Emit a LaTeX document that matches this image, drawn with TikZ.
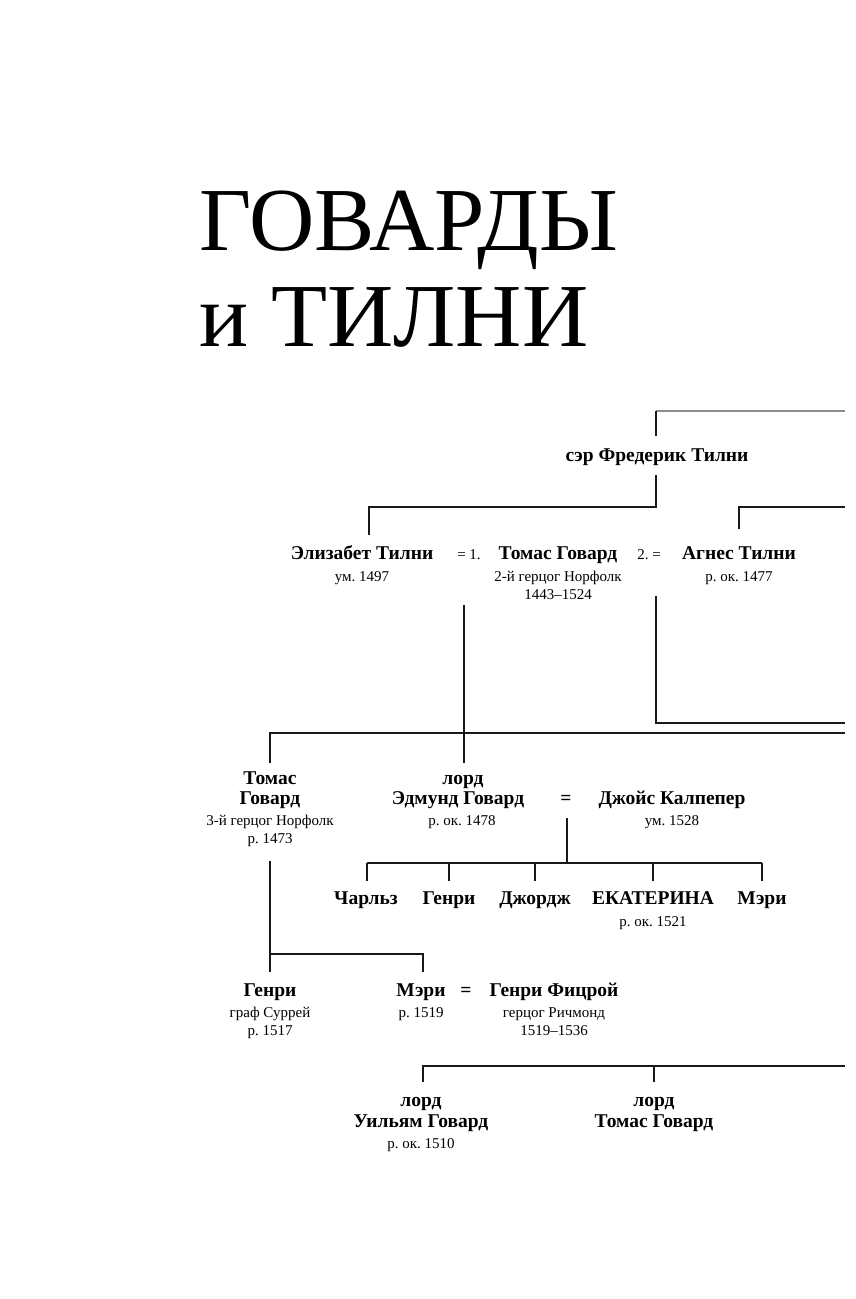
\documentclass[tikz,border=0pt]{standalone}
\usepackage{fontspec}
\setmainfont{Liberation Serif}
\frenchspacing
\begin{document}
\begin{tikzpicture}[x=1pt,y=-1pt,
  nm/.style={anchor=base,inner sep=0pt,font=\bfseries\fontsize{19.5}{20}\selectfont},
  sb/.style={anchor=base,inner sep=0pt,font=\fontsize{15}{16}\selectfont},
  ttl/.style={anchor=base west,inner sep=0pt,font=\fontsize{90}{90}\selectfont},
  ln/.style={line width=1.3pt,black!90},
  gln/.style={line width=2pt,black!45}]
\useasboundingbox (0,0) rectangle (856,1299);
% title
\node[ttl] (t1) at (199,250) {\scalebox{1.005}[1]{ГОВАРДЫ}};
\node[ttl] (t2) at (199,346) {\scalebox{1.02}[1]{и ТИЛНИ}};
% generation 1
\node[nm] (fred) at (657,461) {сэр Фредерик Тилни};
% generation 2
\node[nm] (eliz) at (362,559) {Элизабет Тилни};
\node[sb] (elizd) at (362,581) {ум. 1497};
\node[sb] (m1) at (469,559) {= 1.};
\node[nm] (thom2) at (558,559) {Томас Говард};
\node[sb] (thom2a) at (558,581) {2-й герцог Норфолк};
\node[sb] (thom2b) at (558,599) {1443--1524};
\node[sb] (m2) at (649,559) {2. =};
\node[nm] (agnes) at (739,559) {Агнес Тилни};
\node[sb] (agnesd) at (739,581) {р. ок. 1477};
% generation 3
\node[nm] (thom3a) at (270,784) {Томас};
\node[nm] (thom3b) at (270,804) {Говард};
\node[sb] (thom3c) at (270,825) {3-й герцог Норфолк};
\node[sb] (thom3d) at (270,843) {р. 1473};
\node[nm] (edma) at (463,784) {лорд};
\node[nm] (edmb) at (458,804) {Эдмунд Говард};
\node[sb] (edmc) at (462,825) {р. ок. 1478};
\node[nm] (eq1) at (566,804) {=};
\node[nm] (joyce) at (672,804) {Джойс Калпепер};
\node[sb] (joyced) at (672,825) {ум. 1528};
% Edmund's children
\node[nm] (charles) at (366,904) {Чарльз};
\node[nm] (henry1) at (449,904) {Генри};
\node[nm] (george) at (535,904) {Джордж};
\node[nm] (kath) at (653,904) {ЕКАТЕРИНА};
\node[sb] (kathd) at (653,926) {р. ок. 1521};
\node[nm] (mary1) at (762,904) {Мэри};
% Thomas's children
\node[nm] (henry2) at (270,996) {Генри};
\node[sb] (henry2a) at (270,1017) {граф Суррей};
\node[sb] (henry2b) at (270,1035) {р. 1517};
\node[nm] (mary2) at (421,996) {Мэри};
\node[sb] (mary2d) at (421,1017) {р. 1519};
\node[nm] (eq2) at (466,996) {=};
\node[nm] (fitz) at (554,996) {Генри Фицрой};
\node[sb] (fitza) at (554,1017) {герцог Ричмонд};
\node[sb] (fitzb) at (554,1035) {1519--1536};
% Agnes's children
\node[nm] (willa) at (421,1106) {лорд};
\node[nm] (willb) at (421,1127) {Уильям Говард};
\node[sb] (willc) at (421,1148) {р. ок. 1510};
\node[nm] (tomla) at (654,1106) {лорд};
\node[nm] (tomlb) at (654,1127) {Томас Говард};
% coordinates
\coordinate (topR) at (845,410.5);
\coordinate (topL) at (656,410.5);
\coordinate (fredT) at (656,436);
\coordinate (fredB) at (656,475);
\coordinate (g2L) at (369,507);
\coordinate (g2M) at (656,507);
\coordinate (elizT) at (369,535);
\coordinate (agR) at (845,507);
\coordinate (agL) at (739,507);
\coordinate (agT) at (739,529);
\coordinate (m1B) at (464,605);
\coordinate (m2B) at (656,596);
\coordinate (m2C) at (656,723);
\coordinate (m2R) at (845,723);
\coordinate (g3L) at (270,733);
\coordinate (g3R) at (845,733);
\coordinate (thom3T) at (270,763);
\coordinate (edmT) at (464,763);
\coordinate (eqB) at (567,818);
\coordinate (ch) at (567,863);
\coordinate (chL) at (367,863);
\coordinate (chR) at (762,863);
\coordinate (thom3B) at (270,861);
\coordinate (tc) at (270,954);
\coordinate (tcR) at (423,954);
\coordinate (henry2T) at (270,972);
\coordinate (mary2T) at (423,972);
\coordinate (wL) at (423,1066);
\coordinate (wM) at (654,1066);
\coordinate (wR) at (845,1066);
\coordinate (wT) at (423,1082);
\coordinate (tlT) at (654,1082);
% connectors
\draw[gln] (topR) -- (topL);
\draw[ln] (topL) -- (fredT);
\draw[ln] (fredB) -- (g2M) -- (g2L) -- (elizT);
\draw[ln] (agR) -- (agL) -- (agT);
\draw[ln] (m1B) -- (edmT);
\draw[ln] (m2B) -- (m2C) -- (m2R);
\draw[ln] (g3R) -- (g3L) -- (thom3T);
\draw[ln] (eqB) -- (ch);
\draw[ln] (chL) -- (chR);
\foreach \x in {367,449,535,653,762}
  \draw[ln] (\x,863) -- (\x,881);
\draw[ln] (thom3B) -- (henry2T);
\draw[ln] (tc) -- (tcR) -- (mary2T);
\draw[ln] (wR) -- (wL) -- (wT);
\draw[ln] (wM) -- (tlT);
\end{tikzpicture}
\end{document}
